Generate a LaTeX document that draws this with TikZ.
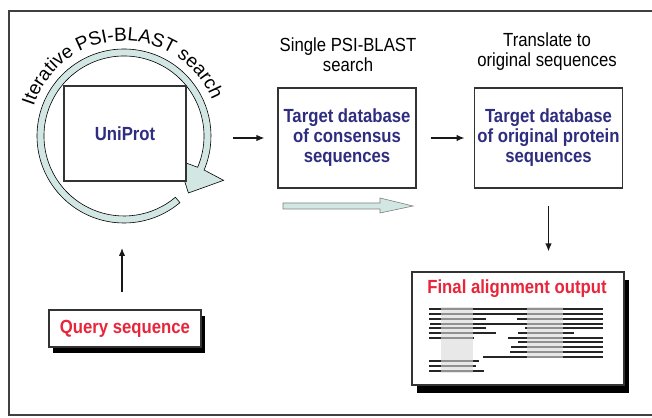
\documentclass[tikz,border=0pt]{standalone}
\usepackage{fontspec}
\setmainfont[FakeStretch=0.88]{Liberation Sans}
\newfontfamily\arcfont{Liberation Sans}
\usepackage{tikz}
\usetikzlibrary{calc,arrows.meta,positioning,shadows,decorations.text}
\definecolor{dbblue}{HTML}{2E2D7F}
\definecolor{outred}{HTML}{E8253A}
\definecolor{loopcyan}{HTML}{D2E6E4}

\begin{document}
\begin{tikzpicture}[x=1pt,y=1pt]
  \tikzstyle{dbbox} = [draw=black!80,line width=1.1pt,fill=white,text=dbblue,align=center,font=\fontsize{19}{20}\selectfont\bfseries]
  \tikzstyle{outbox} = [draw=black!80,line width=1.1pt,fill=white,text=outred,font=\fontsize{19}{20}\selectfont\bfseries]
  \tikzstyle{lbl} = [align=center,font=\fontsize{19}{20}\selectfont]
  \tikzstyle{flow} = [draw=black!90,line width=1.3pt,-{Latex[length=8pt,width=6.5pt]}]
  \tikzstyle{aln} = [draw=black!85,line width=1.4pt]

  \useasboundingbox (0,0) rectangle (652,417);
  \draw[line width=1.8pt,draw=black!75] (652,406) -- (9,406) -- (9,2) -- (652,2);

  % iterative search loop
  \coordinate (C) at (124,281);
  \draw[fill=loopcyan,draw=black,line width=0.6pt] ($(C)+(-50:87)$) arc[start angle=-50,end angle=-383,radius=87]
    -- ($(C)+(-24:109)$) -- ($(C)+(-41.5:86)$) -- ($(C)+(-24:59)$) -- ($(C)+(-23:80)$)
    arc[start angle=-383,end angle=-50,radius=80] -- cycle;
  \path[decorate,decoration={text along path,text align=center,
    text={|\arcfont\fontsize{19}{20}\selectfont|Iterative PSI-BLAST search}}]
    ($(C)+(174:95)$) arc[start angle=174,end angle=10,radius=95];

  \node[dbbox,minimum width=122pt,minimum height=95pt] (uniprot) at (125,283.5) {UniProt};
  \node[dbbox,minimum width=138pt,minimum height=100pt] (cons) at (347,279) {Target database\\of consensus\\sequences};
  \node[dbbox,minimum width=145pt,minimum height=100pt] (orig) at (548.5,279) {Target database\\of original protein\\sequences};

  \node[lbl] (single_lbl) at (348,362) {Single PSI-BLAST\\search};
  \node[lbl] (trans_lbl) at (547,365) {Translate to\\original sequences};

  \draw[fill=loopcyan,draw=black!50,line width=0.6pt] (283,208) -- (380,208) -- (380,204) -- (413,211)
    -- (380,219) -- (380,214) -- (283,214) -- cycle;

  \node[outbox,minimum width=152pt,minimum height=37pt,
    drop shadow={shadow xshift=4pt,shadow yshift=-6pt,opacity=1,fill=black}] (query) at (125,88.5) {Query sequence};
  \node[outbox,minimum width=212pt,minimum height=113pt,
    drop shadow={shadow xshift=5pt,shadow yshift=-8pt,opacity=1,fill=black}] (final) at (518,88.5) {};
  \node[text=outred,font=\fontsize{19}{20}\selectfont\bfseries] (final_ttl) at (517,128) {Final alignment output};

  \coordinate (loop_e) at (233,279);
  \coordinate (loop_s) at (122,169);
  \draw[flow,shorten >=13pt] (loop_e) -- (cons);
  \draw[flow,shorten <=14pt,shorten >=9pt] (cons) -- (orig);
  \draw[flow,shorten <=17pt,shorten >=20pt] (orig.south) -- (orig.south |- final.north);
  \draw[flow,shorten <=17pt] (query.north -| loop_s) -- (loop_s);

  % alignment lines
  \draw[aln] (429,108) -- (603,108);
  \draw[aln] (429,103) -- (603,103);
  \draw[aln] (429,98) -- (486,98);
  \draw[aln] (517,98) -- (603,98);
  \draw[aln] (430,93) -- (603,93);
  \draw[aln] (429,89) -- (486,89);
  \draw[aln] (525,89) -- (603,89);
  \draw[aln] (429,84) -- (496,84);
  \draw[aln] (518,84) -- (574,84);
  \draw[aln] (429,79) -- (474,79);
  \draw[aln] (508,79) -- (603,79);
  \draw[aln] (518,75) -- (603,75);
  \draw[aln] (511,70) -- (603,70);
  \draw[aln] (510,65) -- (603,65);
  \draw[aln] (483,60) -- (603,60);
  \draw[aln] (429,56) -- (479,56);
  \draw[aln] (429,51) -- (476,51);
  \draw[aln] (429,46) -- (484,46);
  \fill[black!15,opacity=0.6] (441,110) rectangle (473,44);
  \fill[black!15,opacity=0.6] (527,110) rectangle (563,59);
\end{tikzpicture}
\end{document}
